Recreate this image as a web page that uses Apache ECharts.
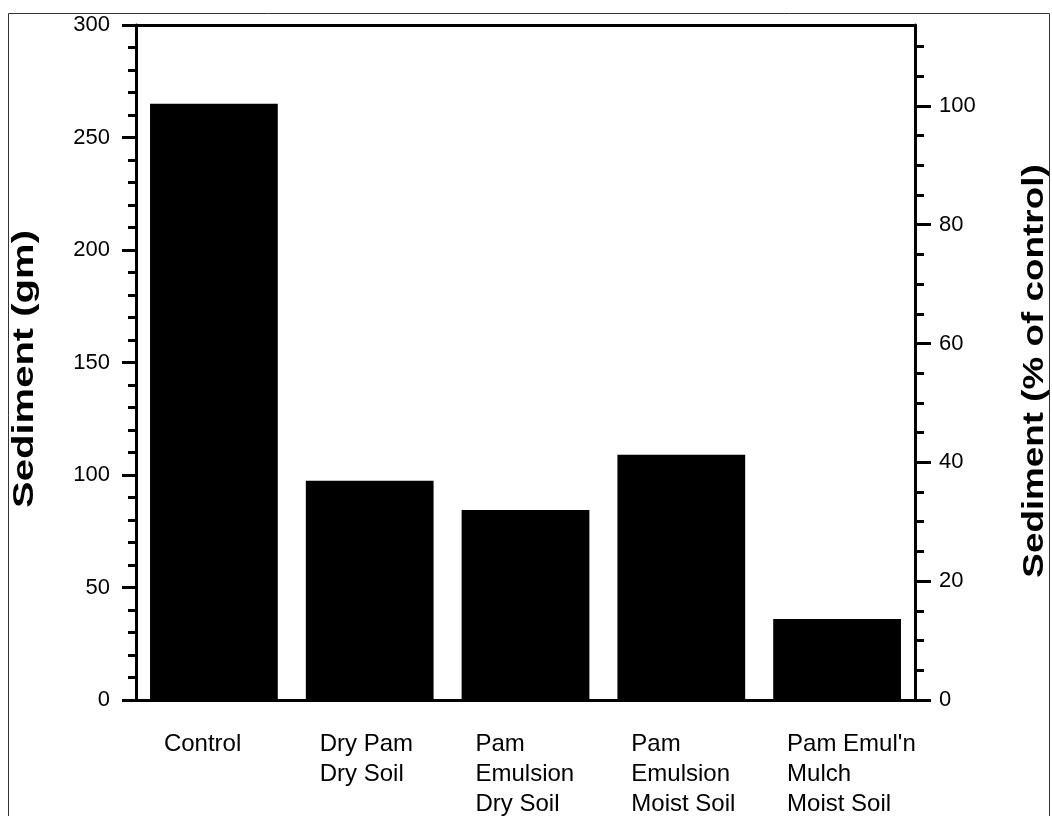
<!DOCTYPE html>
<html>
<head>
<meta charset="utf-8">
<script src="https://cdn.jsdelivr.net/npm/echarts@6/dist/echarts.min.js"></script>
<style>
html,body{margin:0;padding:0;background:#fff;}
#chart{width:1052px;height:816px;}
</style>
</head>
<body>
<div id="chart"></div>
<script>
// ---- data ----
const categories = ['Control', 'Dry Pam\nDry Soil', 'Pam\nEmulsion\nDry Soil', 'Pam\nEmulsion\nMoist Soil', "Pam Emul'n\nMulch\nMoist Soil"];
const sediment = [265, 97.5, 84.5, 109, 36];
const leftMax = 300;
const rightMax = 113.6;
const rightMajorTicks = [0, 20, 40, 60, 80, 100];
const rightMinorTicks = [5, 10, 15, 25, 30, 35, 45, 50, 55, 65, 70, 75, 85, 90, 95, 105, 110];
const leftTitle = 'Sediment (gm)';
const rightTitle = 'Sediment (% of control)';

const FONT = '"Liberation Sans", Arial, Helvetica, sans-serif';
const chart = echarts.init(document.getElementById('chart'), null, {renderer: 'canvas'});

const option = {
  animation: false,
  backgroundColor: '#fff',
  grid: {left: 136, right: 137, top: 25, bottom: 108, containLabel: false},
  xAxis: [{
    type: 'category',
    data: categories,
    position: 'bottom',
    boundaryGap: true,
    axisLine: {show: true, onZero: false, lineStyle: {color: '#000', width: 3}},
    axisTick: {show: false},
    splitLine: {show: false},
    axisLabel: {
      interval: 0,
      margin: 29,
      align: 'center',
      formatter: v => v.split('\n').map(s => '{a|' + s + '}').join('\n'),
      rich: {a: {width: 100, align: 'left', fontSize: 24, lineHeight: 30, color: '#000', fontFamily: FONT}}
    }
  }, {
    type: 'category',
    data: categories,
    position: 'top',
    axisLine: {show: true, onZero: false, lineStyle: {color: '#000', width: 3}},
    axisTick: {show: false},
    axisLabel: {show: false},
    splitLine: {show: false}
  }],
  yAxis: [{
    type: 'value',
    position: 'left',
    min: 0, max: leftMax, interval: 50,
    axisLine: {show: true, lineStyle: {color: '#000', width: 3}},
    axisTick: {show: true, inside: false, length: 14, lineStyle: {color: '#000', width: 3}},
    minorTick: {show: true, splitNumber: 5, length: 8, lineStyle: {color: '#000', width: 3}},
    splitLine: {show: false},
    axisLabel: {margin: 26, fontSize: 22, color: '#000', fontFamily: FONT}
  }, {
    type: 'value',
    position: 'right',
    min: 0, max: rightMax,
    axisLine: {show: true, lineStyle: {color: '#000', width: 3}},
    axisTick: {show: true, inside: false, length: 16, customValues: rightMajorTicks, lineStyle: {color: '#000', width: 3}},
    splitLine: {show: false},
    axisLabel: {margin: 24, fontSize: 22, color: '#000', fontFamily: FONT, customValues: rightMajorTicks}
  }, {
    type: 'value',
    position: 'right',
    offset: 0,
    min: 0, max: rightMax,
    axisLine: {show: false},
    axisTick: {show: true, inside: false, length: 9, customValues: rightMinorTicks, lineStyle: {color: '#000', width: 3}},
    splitLine: {show: false},
    axisLabel: {show: false}
  }],
  series: [{
    type: 'bar',
    data: sediment,
    xAxisIndex: 0,
    yAxisIndex: 0,
    barCategoryGap: '18%',
    itemStyle: {color: '#000'}
  }],
  graphic: [{
    type: 'rect',
    shape: {x: 8.5, y: 13.5, width: 1041, height: 900},
    style: {fill: 'none', stroke: '#333', lineWidth: 1},
    silent: true,
    z: -10
  }, {
    type: 'text',
    x: 25, y: 369,
    rotation: Math.PI / 2,
    scaleX: 1.38,
    style: {text: leftTitle, font: 'bold 29px ' + FONT, fill: '#000', align: 'center', verticalAlign: 'middle'}
  }, {
    type: 'text',
    x: 1035, y: 371,
    rotation: Math.PI / 2,
    scaleX: 1.27,
    style: {text: rightTitle, font: 'bold 29px ' + FONT, fill: '#000', align: 'center', verticalAlign: 'middle'}
  }]
};
chart.setOption(option);
</script>
</body>
</html>
